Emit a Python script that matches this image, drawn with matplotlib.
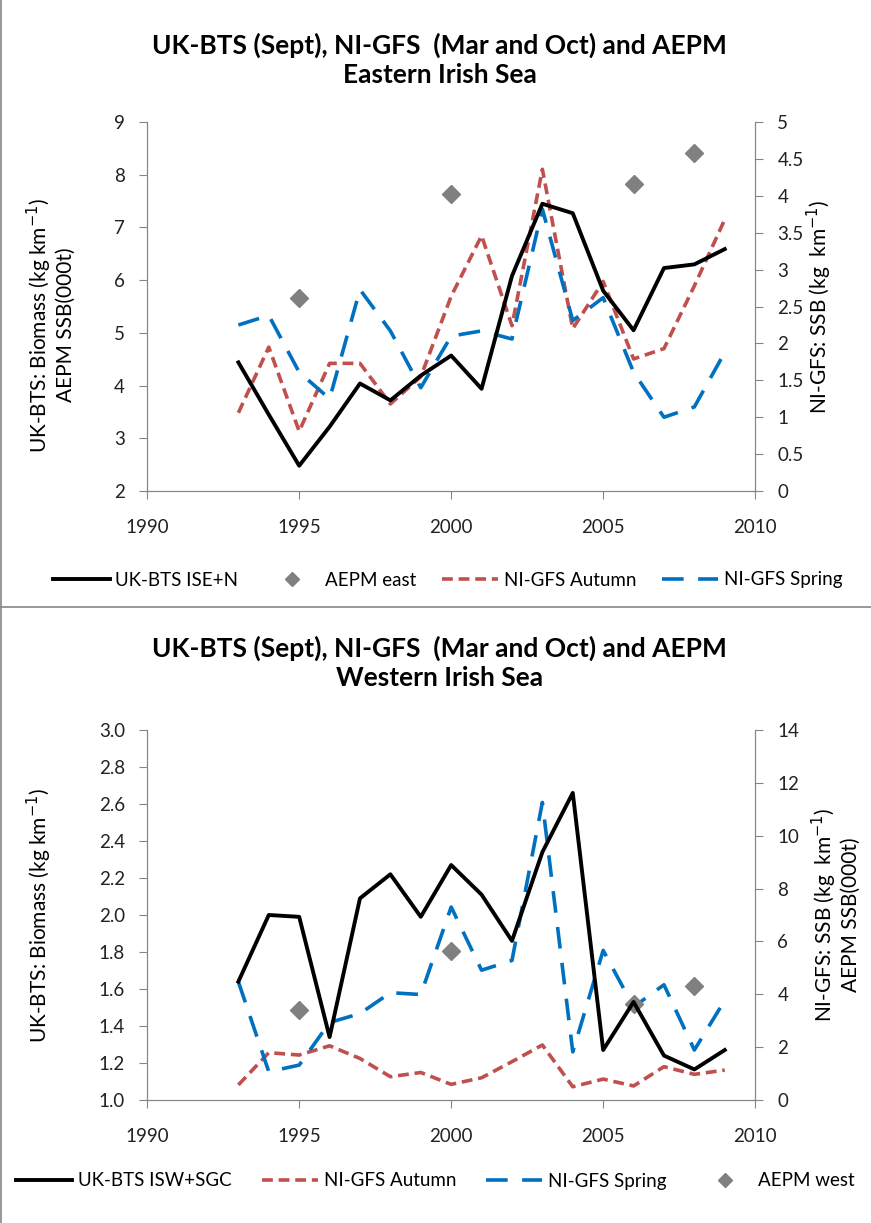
import matplotlib.pyplot as plt
import numpy as np
from matplotlib.lines import Line2D

plt.rcParams['font.family'] = ['Lato', 'DejaVu Sans']

years = np.arange(1993, 2010)

# Eastern Irish Sea
bts_east = [4.44, 3.45, 2.48, 3.22, 4.04, 3.72, 4.19, 4.57, 3.94, 6.08, 7.45, 7.27, 5.80, 5.05, 6.23, 6.30, 6.59]
aut_east = [1.06, 1.95, 0.81, 1.73, 1.73, 1.18, 1.55, 2.64, 3.46, 2.24, 4.36, 2.20, 2.84, 1.79, 1.93, 2.78, 3.68]
spr_east = [2.25, 2.38, 1.61, 1.25, 2.73, 2.17, 1.40, 2.10, 2.17, 2.06, 3.82, 2.31, 2.62, 1.61, 1.00, 1.14, 1.88]
aepm_east_years = [1995, 2000, 2006, 2008]
aepm_east = [5.66, 7.64, 7.83, 8.41]

# Western Irish Sea
bts_west = [1.64, 2.00, 1.99, 1.34, 2.09, 2.22, 1.99, 2.27, 2.11, 1.86, 2.34, 2.66, 1.27, 1.53, 1.24, 1.165, 1.27]
aut_west = [0.57, 1.79, 1.70, 2.05, 1.57, 0.88, 1.04, 0.59, 0.84, 1.45, 2.08, 0.50, 0.79, 0.53, 1.26, 0.97, 1.13]
spr_west = [4.47, 1.07, 1.32, 2.93, 3.27, 4.06, 3.99, 7.30, 4.91, 5.28, 11.26, 1.82, 5.66, 3.52, 4.36, 1.89, 3.77]
aepm_west_years = [1995, 2000, 2006, 2008]
aepm_west = [3.40, 5.64, 3.65, 4.30]

BLACK = 'black'
RED = '#C0504D'
BLUE = '#0070C0'
GREY = '#808080'
AX = '#868686'
LBL = 15
TICK = 13.5
LEG = 13.5
TITLE = 19

fig = plt.figure(figsize=(8.71, 12.23), dpi=100)


def style(ax, ax2):
    for a in (ax, ax2):
        for s in a.spines.values():
            s.set_color(AX)
        a.spines['top'].set_visible(False)
        a.tick_params(colors=AX, labelcolor='#222222', labelsize=TICK, length=6, pad=10)
    ax.tick_params(axis='x', pad=14)
    ax.set_xlim(1990, 2010)
    ax.set_xticks([1990, 1995, 2000, 2005, 2010])


# ---- top panel
ax = fig.add_axes([0.169, 0.5985, 0.698, 0.3017])
ax2 = ax.twinx()
ax.plot(years, bts_east, color=BLACK, lw=2.8, zorder=5)
ax.plot(aepm_east_years, aepm_east, ls='none', marker='D', color=GREY, ms=9, zorder=6)
ax2.plot(years, aut_east, color=RED, lw=2.6, dashes=(3, 1.6))
ax2.plot(years, spr_east, color=BLUE, lw=2.6, dashes=(6, 4))
ax.set_ylim(2, 9)
ax2.set_ylim(0, 5)
ax2.set_yticks(np.arange(0, 5.01, 0.5))
ax2.set_yticklabels(['0', '0.5', '1', '1.5', '2', '2.5', '3', '3.5', '4', '4.5', '5'])
style(ax, ax2)
ax.set_zorder(ax2.get_zorder() + 1)
ax.patch.set_visible(False)
ax.set_ylabel('UK-BTS: Biomass (kg km$^{-1}$)\nAEPM SSB(000t)', fontsize=LBL, linespacing=1.1)
ax.yaxis.set_label_coords(-0.118, 0.45)
ax2.set_ylabel('NI-GFS: SSB (kg  km$^{-1}$)', fontsize=LBL)
ax2.yaxis.set_label_coords(1.082, 0.5)
fig.text(0.505, 1 - 60 / 1223, 'UK-BTS (Sept), NI-GFS  (Mar and Oct) and AEPM\nEastern Irish Sea',
         ha='center', va='center', fontsize=TITLE, fontweight='bold', linespacing=1.25)

handles = [Line2D([], [], color=BLACK, lw=2.8),
           Line2D([], [], ls='none', marker='D', color=GREY, ms=7),
           Line2D([], [], color=RED, lw=2.6, dashes=(3, 1.6)),
           Line2D([], [], color=BLUE, lw=2.6, dashes=(6, 4))]
fig.legend(handles, ['UK-BTS ISE+N', 'AEPM east', 'NI-GFS Autumn', 'NI-GFS Spring'],
           loc='center', bbox_to_anchor=(0.514, 1 - 580 / 1223), ncol=4, frameon=False,
           fontsize=LEG, handlelength=3.0, columnspacing=1.35, handletextpad=0.3)

# ---- bottom panel
bx = fig.add_axes([0.169, 0.1006, 0.698, 0.3025])
bx2 = bx.twinx()
bx.plot(years, bts_west, color=BLACK, lw=2.8, zorder=5)
bx2.plot(years, aut_west, color=RED, lw=2.6, dashes=(3, 1.6))
bx2.plot(years, spr_west, color=BLUE, lw=2.6, dashes=(6, 4))
bx2.plot(aepm_west_years, aepm_west, ls='none', marker='D', color=GREY, ms=9, zorder=6)
bx.set_ylim(1.0, 3.0)
bx.set_yticks(np.arange(1.0, 3.01, 0.2))
bx.set_yticklabels(['%.1f' % v for v in np.arange(1.0, 3.01, 0.2)])
bx2.set_ylim(0, 14)
bx2.set_yticks(np.arange(0, 15, 2))
style(bx, bx2)
bx.set_zorder(bx2.get_zorder() + 1)
bx.patch.set_visible(False)
bx.set_ylabel('UK-BTS: Biomass (kg km$^{-1}$)', fontsize=LBL)
bx.yaxis.set_label_coords(-0.153, 0.5)
bx2.set_ylabel('NI-GFS: SSB (kg  km$^{-1}$)\nAEPM SSB(000t)', fontsize=LBL, linespacing=1.1)
bx2.yaxis.set_label_coords(1.09, 0.5)
fig.text(0.505, 1 - 663 / 1223, 'UK-BTS (Sept), NI-GFS  (Mar and Oct) and AEPM\nWestern Irish Sea',
         ha='center', va='center', fontsize=TITLE, fontweight='bold', linespacing=1.25)

handles = [Line2D([], [], color=BLACK, lw=2.8),
           Line2D([], [], color=RED, lw=2.6, dashes=(3, 1.6)),
           Line2D([], [], color=BLUE, lw=2.6, dashes=(6, 4)),
           Line2D([], [], ls='none', marker='D', color=GREY, ms=7)]
fig.legend(handles, ['UK-BTS ISW+SGC', 'NI-GFS Autumn', 'NI-GFS Spring', 'AEPM west'],
           loc='center', bbox_to_anchor=(0.5, 1 - 1181 / 1223), ncol=4, frameon=False,
           fontsize=LEG, handlelength=3.0, columnspacing=1.6, handletextpad=0.3)

# panel borders
fig.add_artist(Line2D([0.001, 0.001], [0, 1], color=AX, lw=1.2, transform=fig.transFigure))
fig.add_artist(Line2D([0, 1], [1 - 607 / 1223, 1 - 607 / 1223], color=AX, lw=1.2, transform=fig.transFigure))

fig.savefig('out.png', dpi=100)
